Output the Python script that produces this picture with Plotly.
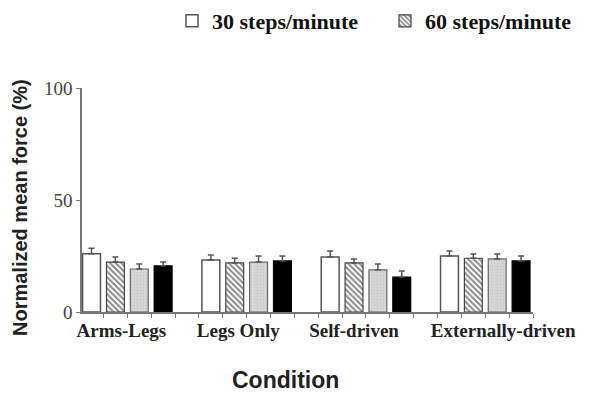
import plotly.graph_objects as go

conditions = ["Arms-Legs", "Legs Only", "Self-driven", "Externally-driven"]
series_names = ["30 steps/minute", "60 steps/minute", "Series 3", "Series 4"]
values = [
    [26.0, 23.2, 24.5, 25.0],   # 30 steps/minute
    [22.3, 21.9, 21.9, 24.0],   # 60 steps/minute
    [19.2, 22.3, 18.8, 23.7],   # third series
    [20.6, 22.8, 15.6, 22.8],   # fourth series
]
errors = [
    [2.5, 2.2, 2.7, 2.2],
    [2.2, 2.1, 1.8, 1.9],
    [2.2, 2.7, 2.6, 2.2],
    [1.7, 2.2, 2.7, 2.2],
]
y_ticks = [0, 50, 100]

x_pos = list(range(len(conditions)))
label_pos = [-0.05, 0.93, 1.90, 3.15]

# page body adds an 8px offset; plot area in screen pixels: x 82..533, y 88..312
OFF = 8
W, H = 600 - OFF, 396 - OFF
L, T, PW, PH = 82 - OFF, 88 - OFF, 451, 224

styles = [
    dict(color="white", line=dict(color="#555555", width=1.5)),
    dict(color="white", line=dict(color="#444444", width=1.2),
         pattern=dict(shape="\\", fgcolor="#111111", bgcolor="white", size=4, solidity=0.5)),
    dict(color="#cfcfcf", line=dict(color="#666666", width=1.2),
         pattern=dict(shape=".", fgcolor="#b5b5b5", bgcolor="#d8d8d8", size=3, solidity=0.3)),
    dict(color="#000000", line=dict(color="#000000", width=1.2)),
]
legend_ids = ["legend", "legend2", None, None]

fig = go.Figure()
for i, name in enumerate(series_names):
    fig.add_trace(go.Bar(
        x=x_pos, y=values[i], name="<b>%s</b>" % name,
        marker=styles[i],
        showlegend=legend_ids[i] is not None,
        legend=legend_ids[i] or "legend",
        error_y=dict(type="data", array=errors[i], arrayminus=[0] * len(errors[i]),
                     symmetric=False, color="#555555", thickness=1.5, width=3),
    ))

def px(xs):
    return (xs - 82) / PW

def py(ys):
    return (312 - ys) / PH

legend_font = dict(family="Liberation Serif", size=22, color="#111111")
fig.update_layout(
    width=W, height=H,
    margin=dict(l=L, r=W - L - PW, t=T, b=H - T - PH, autoexpand=False),
    paper_bgcolor="white", plot_bgcolor="white",
    barmode="group", bargap=0.2, bargroupgap=0.25,
    showlegend=True,
    legend=dict(orientation="h", x=px(172), y=py(21), xanchor="left", yanchor="middle",
                font=legend_font, itemwidth=30, bgcolor="rgba(0,0,0,0)"),
    legend2=dict(orientation="h", x=px(385), y=py(21), xanchor="left", yanchor="middle",
                 font=legend_font, itemwidth=30, bgcolor="rgba(0,0,0,0)"),
    font=dict(family="Liberation Serif", color="#222222"),
    annotations=[
        dict(text="<b>Condition</b>", xref="paper", yref="paper",
             x=px(285), y=py(380), xanchor="center", yanchor="middle",
             showarrow=False, font=dict(family="Liberation Sans", size=23, color="#222222")),
        dict(text="<b>Normalized mean force (%)</b>", xref="paper", yref="paper",
             x=px(20), y=py(208), xanchor="center", yanchor="middle",
             textangle=-90, showarrow=False,
             font=dict(family="Liberation Sans", size=20, color="#222222")),
    ],
)

fig.update_xaxes(
    range=[-0.38, 3.40], showgrid=False, zeroline=False, automargin=False,
    showline=True, linecolor="#777777", linewidth=1.5,
    tickmode="array", tickvals=label_pos,
    ticktext=["<b>%s</b>" % c for c in conditions],
    ticks="", tickfont=dict(family="Liberation Serif", size=19, color="#222222"),
    minor=dict(tickmode="linear", tick0=0, dtick=0.2, ticks="outside", ticklen=4,
               tickcolor="#777777", tickwidth=1, showgrid=False),
)
fig.update_yaxes(
    range=[0, 100], showgrid=False, zeroline=False, automargin=False,
    showline=True, linecolor="#777777", linewidth=1.5,
    tickmode="array", tickvals=y_ticks, ticktext=[str(t) for t in y_ticks],
    ticks="outside", ticklen=4, tickcolor="#777777",
    tickfont=dict(family="Liberation Serif", size=19, color="#444444"),
)

fig.write_html("out.html")
